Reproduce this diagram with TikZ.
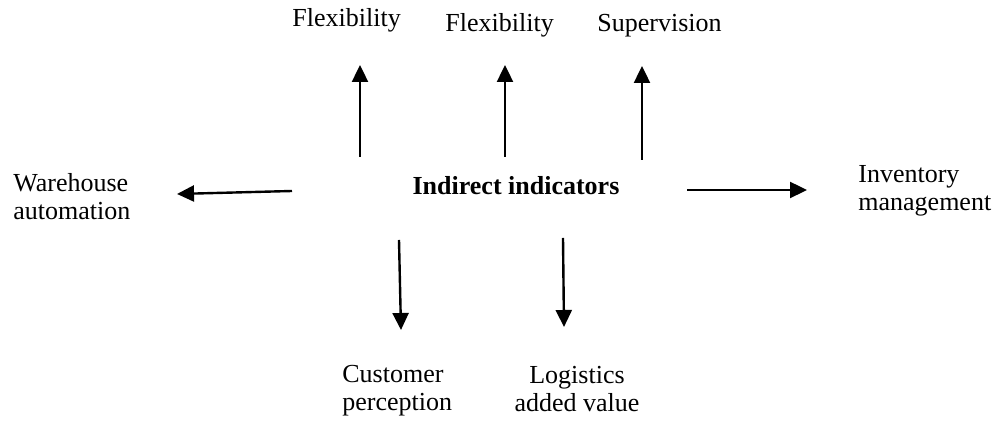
\documentclass[tikz,border=0pt]{standalone}
\usepackage{fontspec}
\setmainfont{Liberation Serif}
\usetikzlibrary{arrows.meta}
\begin{document}
\begin{tikzpicture}[x=0.5pt,y=-0.5pt,
  lbl/.style={inner sep=0pt, font=\fontsize{13}{14}\selectfont},
  arr/.style={line width=1.2pt, -{Triangle[length=8.5pt,width=8pt]}}]
\useasboundingbox (0,0) rectangle (998,421);
% labels (two-line labels are anchored at the baseline of their last line)
\node[lbl, anchor=base] (core) at (516,195) {\bfseries Indirect indicators};
\node[lbl, anchor=base west] (flexA) at (292,27) {Flexibility};
\node[lbl, anchor=base west] (flexB) at (445,32) {Flexibility};
\node[lbl, anchor=base west] (super) at (597,32) {Supervision};
\node[lbl, anchor=base west, align=left] (ware) at (13,220) {Warehouse\\automation};
\node[lbl, anchor=base west, align=left] (inv) at (858,211) {Inventory\\management};
\node[lbl, anchor=base west, align=left] (cust) at (342,411) {Customer\\perception};
\node[lbl, anchor=base, align=center] (logi) at (577,412) {Logistics\\added value};
% arrow end points
\coordinate (wS) at (292,191); \coordinate (wT) at (177,194);
\coordinate (aS) at (360,157); \coordinate (aT) at (360,65);
\coordinate (bS) at (505,157); \coordinate (bT) at (505,65);
\coordinate (cS) at (642,160); \coordinate (cT) at (642,66);
\coordinate (iS) at (687,190); \coordinate (iT) at (807,190);
\coordinate (pS) at (399,240); \coordinate (pT) at (401,330);
\coordinate (lS) at (563,238); \coordinate (lT) at (564,327);
% arrows
\draw[arr] (wS) -- (wT);
\draw[arr] (aS) -- (aT);
\draw[arr] (bS) -- (bT);
\draw[arr] (cS) -- (cT);
\draw[arr] (iS) -- (iT);
\draw[arr] (pS) -- (pT);
\draw[arr] (lS) -- (lT);
\end{tikzpicture}
\end{document}
